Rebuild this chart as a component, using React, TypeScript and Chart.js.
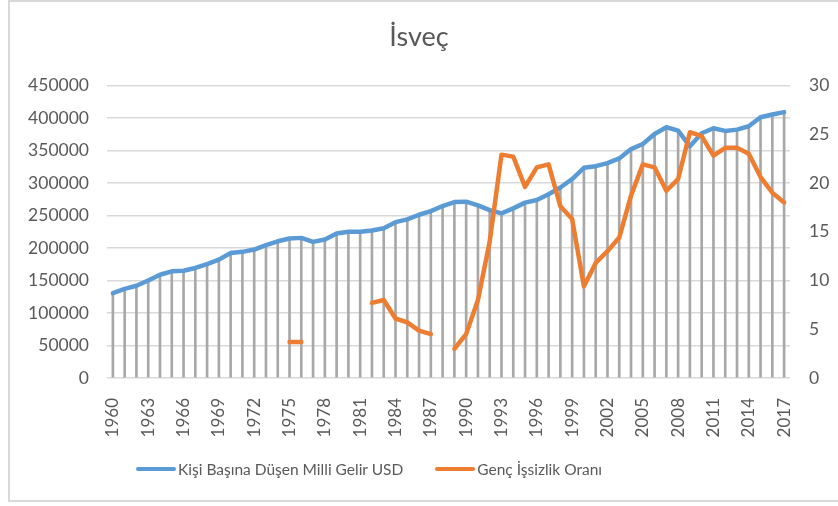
import React, { useEffect, useRef } from "react";
import { Chart, registerables } from "chart.js";

Chart.register(...registerables);

const years: string[] = [
  "1960","1961","1962","1963","1964","1965","1966","1967","1968","1969",
  "1970","1971","1972","1973","1974","1975","1976","1977","1978","1979",
  "1980","1981","1982","1983","1984","1985","1986","1987","1988","1989",
  "1990","1991","1992","1993","1994","1995","1996","1997","1998","1999",
  "2000","2001","2002","2003","2004","2005","2006","2007","2008","2009",
  "2010","2011","2012","2013","2014","2015","2016","2017",
];

const incomeUSD: number[] = [
  130500, 137000, 141800, 150000, 158800, 164000, 165000, 169200, 175300, 182000,
  192300, 194000, 197500, 204200, 210300, 214500, 215500, 209400, 213000, 222200,
  225000, 224800, 226900, 230400, 239700, 243900, 251100, 256700, 264500, 270600,
  271200, 265500, 258300, 253200, 260900, 269700, 273700, 282600, 292900, 306000,
  323200, 325800, 330500, 337700, 352100, 359800, 375300, 385600, 380400, 356300,
  376400, 384100, 380000, 382000, 387200, 401100, 405200, 408900,
];

const youthUnemployment: (number | null)[] = [
  null, null, null, null, null, null, null, null, null, null,
  null, null, null, null, null, 3.7, 3.7, null, null, null,
  null, null, 7.7, 8.0, 6.1, 5.7, 4.85, 4.5, null, 3.0,
  4.5, 8.0, 14.0, 22.9, 22.7, 19.6, 21.6, 21.9, 17.6, 16.3,
  9.4, 11.8, 13.0, 14.4, 18.7, 21.9, 21.6, 19.2, 20.4, 25.2,
  24.8, 22.8, 23.6, 23.6, 23.0, 20.6, 19.0, 18.0,
];

const leftTicks = { min: 0, max: 450000, step: 50000 };
const rightTicks = { min: 0, max: 30, step: 5 };

const titleText = "İsveç";
const incomeLabel = "Kişi Başına Düşen Milli Gelir USD";
const unemploymentLabel = "Genç İşsizlik Oranı";

const BLUE = "#5b9bd5";
const ORANGE = "#ed7d31";
const TEXT = "#595959";
const FONT = "Lato, 'Open Sans', sans-serif";

export default function App() {
  const canvasRef = useRef<HTMLCanvasElement | null>(null);

  useEffect(() => {
    if (!canvasRef.current) return;
    const chart = new Chart(canvasRef.current, {
      type: "line",
      data: {
        labels: years,
        datasets: [
          {
            type: "line",
            label: incomeLabel,
            data: incomeUSD,
            borderColor: BLUE,
            backgroundColor: BLUE,
            borderWidth: 4.5,
            pointRadius: 0,
            borderCapStyle: "round",
            borderJoinStyle: "round",
            tension: 0,
            yAxisID: "y",
            order: 2,
          },
          {
            type: "line",
            label: unemploymentLabel,
            data: youthUnemployment,
            borderColor: ORANGE,
            backgroundColor: ORANGE,
            borderWidth: 4.5,
            pointRadius: 0,
            borderCapStyle: "round",
            borderJoinStyle: "round",
            tension: 0,
            spanGaps: false,
            yAxisID: "y1",
            order: 1,
          },
          {
            type: "bar",
            label: "drop",
            data: incomeUSD,
            backgroundColor: "#a8a8a8",
            barThickness: 2,
            yAxisID: "y",
            order: 3,
          } as any,
        ],
      },
      options: {
        responsive: false,
        animation: false,
        layout: { padding: { left: 0, right: 0, top: 0, bottom: 0 } },
        plugins: {
          legend: { display: false },
          tooltip: { enabled: false },
          title: {
            display: true,
            text: titleText,
            color: TEXT,
            font: { family: FONT, size: 27, weight: "normal" },
            padding: { top: 21, bottom: 32 },
          },
        },
        scales: {
          x: {
            type: "category",
            offset: true,
            grid: { display: false },
            border: { display: false },
            ticks: {
              autoSkip: false,
              maxRotation: 90,
              minRotation: 90,
              padding: 12,
              color: TEXT,
              font: { family: FONT, size: 17 },
              callback: (_v: any, i: number) => (i % 3 === 0 ? years[i] : ""),
            },
            afterFit: (s: any) => {
              s.height = 506 - 378;
            },
          },
          y: {
            position: "left",
            min: leftTicks.min,
            max: leftTicks.max,
            grid: { color: "#d9d9d9", lineWidth: 1.5, drawTicks: false },
            border: { display: false },
            ticks: {
              stepSize: leftTicks.step,
              padding: 18,
              color: TEXT,
              font: { family: FONT, size: 17.5 },
              callback: (v: any) => String(v),
            },
            afterFit: (s: any) => {
              s.width = 107;
            },
          },
          y1: {
            position: "right",
            min: rightTicks.min,
            max: rightTicks.max,
            grid: { display: false, drawTicks: false },
            border: { display: false },
            ticks: {
              stepSize: rightTicks.step,
              padding: 19,
              color: TEXT,
              font: { family: FONT, size: 17.5 },
              callback: (v: any) => String(v),
            },
            afterFit: (s: any) => {
              s.width = 838 - 790;
            },
          },
        },
      },
    });
    return () => chart.destroy();
  }, []);

  const legendItem = (color: string, text: string) => (
    <div style={{ display: "flex", alignItems: "center" }}>
      <span
        style={{
          display: "inline-block",
          width: 40,
          height: 4,
          borderRadius: 2,
          background: color,
          marginRight: 2,
        }}
      />
      <span style={{ color: TEXT, fontSize: 15.5, fontFamily: FONT, whiteSpace: "nowrap" }}>{text}</span>
    </div>
  );

  return (
    <div style={{ position: "fixed", left: 0, top: 0, width: 838, height: 506, background: "#fff", overflow: "hidden" }}>
      <div
        style={{
          position: "absolute",
          left: 8,
          top: 0,
          width: 840,
          height: 502,
          border: "2px solid #d9d9d9",
          boxSizing: "border-box",
        }}
      />
      <canvas
        ref={canvasRef}
        width={838}
        height={506}
        style={{ position: "absolute", left: 0, top: 0, width: 838, height: 506 }}
      />
      <div
        style={{
          position: "absolute",
          left: 136,
          top: 458,
          height: 22,
          display: "flex",
          alignItems: "center",
          gap: 32,
        }}
      >
        {legendItem(BLUE, incomeLabel)}
        {legendItem(ORANGE, unemploymentLabel)}
      </div>
    </div>
  );
}
